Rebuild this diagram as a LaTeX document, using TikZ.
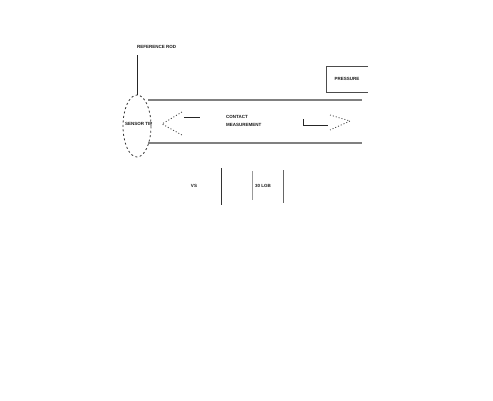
\documentclass[tikz,border=0pt]{standalone}
\usepackage{fontspec}
\setmainfont{Liberation Sans}
\usetikzlibrary{shapes.geometric}
\begin{document}
\begin{tikzpicture}[x=1pt,y=-1pt,
  lbl/.style={font=\fontsize{4.5}{5.5}\selectfont\bfseries, inner sep=0pt, text=black!90},
  wall/.style={draw=black!50, line width=1.4pt},
  dots/.style={draw=black!75, dash pattern=on 1pt off 2pt, line width=0.8pt},
  bar/.style={draw=black!85, line width=0.9pt}]
\useasboundingbox[fill=white] (0,0) rectangle (493,400);
% pipe walls
\coordinate (tl) at (148,100); \coordinate (tr) at (362,100);
\coordinate (bl) at (148,143); \coordinate (br) at (362,143);
\draw[wall] (tl) -- (tr);
\draw[wall] (bl) -- (br);
% top label and leader
\node[lbl, anchor=west] (top) at (137,47) {REFERENCE ROD};
\node[draw=black!80, dash pattern=on 2pt off 2.5pt, ellipse, minimum width=28pt, minimum height=62pt, inner sep=0pt, line width=0.8pt] (ell) at (137,126) {};
\coordinate (lt) at (137,55);
\draw[bar] (lt) -- (ell.north);
\node[lbl, anchor=west] (tip) at (125,124) {SENSOR TIP};
% dotted V
\coordinate (va) at (162,124); \coordinate (vb) at (182,112); \coordinate (vc) at (182,135);
\draw[dots] (vb) -- (va) -- (vc);
\coordinate (ha) at (184,117); \coordinate (hb) at (200,117);
\draw[bar] (ha) -- (hb);
% centre text
\node[lbl, align=left, anchor=west] (mid) at (226,121) {CONTACT\\[2pt]MEASUREMENT};
% right arrow
\coordinate (ra) at (303,119); \coordinate (rb) at (303,125); \coordinate (rc) at (328,125);
\draw[bar] (ra) -- (rb) -- (rc);
\coordinate (da) at (330,115); \coordinate (db) at (350,121); \coordinate (dc) at (330,130);
\draw[dots] (da) -- (db) -- (dc);
% pressure box
\coordinate (p1) at (368,66); \coordinate (p2) at (326,66); \coordinate (p3) at (326,92); \coordinate (p4) at (368,92);
\draw[draw=black!70, line width=0.8pt] (p1) -- (p2) -- (p3) -- (p4);
\node[lbl] (pr) at (347,79) {PRESSURE};
% bottom
\node[lbl] (vs) at (194,186) {VS};
\coordinate (l1a) at (221,168); \coordinate (l1b) at (221,205);
\draw[draw=black!80, line width=0.9pt] (l1a) -- (l1b);
\coordinate (l2a) at (252,171); \coordinate (l2b) at (252,200);
\draw[draw=black!40, line width=0.6pt] (l2a) -- (l2b);
\node[lbl, anchor=west] (mm) at (255,186) {30 LGB};
\coordinate (l3a) at (283,170); \coordinate (l3b) at (283,203);
\draw[draw=black!60, line width=0.7pt] (l3a) -- (l3b);
\end{tikzpicture}
\end{document}
